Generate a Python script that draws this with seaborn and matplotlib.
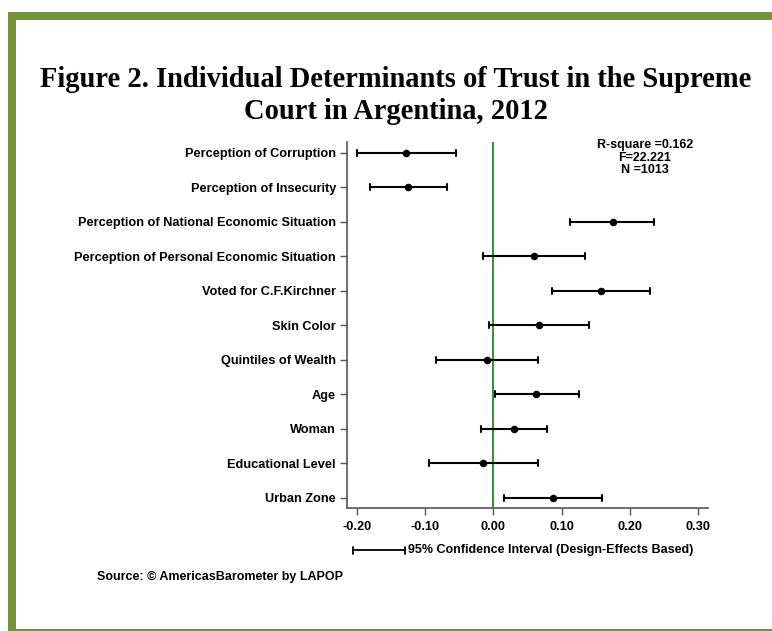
import matplotlib
matplotlib.use("Agg")
import matplotlib.pyplot as plt
from matplotlib.patches import Rectangle
from matplotlib.lines import Line2D
import numpy as np
import pandas as pd
import seaborn as sns

# Regression coefficients with 95% confidence bounds
variables = [
    "Perception of Corruption",
    "Perception of Insecurity",
    "Perception of National Economic Situation",
    "Perception of Personal Economic Situation",
    "Voted for C.F.Kirchner",
    "Skin Color",
    "Quintiles of Wealth",
    "Age",
    "Woman",
    "Educational Level",
    "Urban Zone",
]
coef = [-0.128, -0.125, 0.175, 0.060, 0.158, 0.067, -0.009, 0.063, 0.030, -0.015, 0.088]
ci_low = [-0.201, -0.181, 0.113, -0.015, 0.086, -0.006, -0.084, 0.002, -0.018, -0.095, 0.016]
ci_high = [-0.055, -0.068, 0.236, 0.135, 0.230, 0.140, 0.066, 0.125, 0.079, 0.065, 0.160]
x_ticks = [-0.20, -0.10, 0.00, 0.10, 0.20, 0.30]
stats_text = "R-square =0.162\nF=22.221\nN =1013"
title_lines = ["Figure 2. Individual Determinants of Trust in the Supreme",
               "Court in Argentina, 2012"]

# Long table: low / estimate / high per variable; median = estimate, full range = CI
rows = []
for v, lo, c, hi in zip(variables, ci_low, coef, ci_high):
    for val in (lo, c, hi):
        rows.append({"variable": v, "value": val})
df = pd.DataFrame(rows)

sns.set_style("white")
plt.rcParams["font.family"] = ["Liberation Sans", "DejaVu Sans"]
plt.rcParams["text.color"] = "black"
plt.rcParams["xtick.color"] = "black"
plt.rcParams["ytick.color"] = "black"

W, H = 772, 631
fig = plt.figure(figsize=(W / 100, H / 100), dpi=100)
fig.patch.set_facecolor("white")

ax = fig.add_axes([347 / W, 1 - 508 / H, (708 - 347) / W, (508 - 142) / H])

sns.pointplot(
    data=df, x="value", y="variable", order=variables,
    estimator="median", errorbar=("pi", 100),
    linestyle="none", color="black", capsize=0.18,
    err_kws={"linewidth": 1.5}, markersize=3.4, marker="o",
    ax=ax,
)

ax.axvline(0, color="#1f8a1f", linewidth=1.3, zorder=0)

ax.set_xlim(-0.215, 0.315)
ax.set_ylim(10.3, -0.31)
ax.set_xticks(x_ticks)
ax.set_xticklabels([f"{t:.2f}" for t in x_ticks])
ax.set_xlabel("")
ax.set_ylabel("")

for side in ("top", "right"):
    ax.spines[side].set_visible(False)
for side in ("left", "bottom"):
    ax.spines[side].set_color("#555555")
    ax.spines[side].set_linewidth(1.2)

ax.tick_params(axis="both", which="both", direction="out", length=5, width=1.0,
               color="#555555", labelsize=9.2, labelcolor="black")
ax.tick_params(axis="y", left=True, pad=3)
ax.tick_params(axis="x", bottom=True, pad=4)
for lab in ax.get_xticklabels() + ax.get_yticklabels():
    lab.set_fontweight("bold")

fig.text(645 / W, 1 - 139 / H, stats_text, ha="center", va="top",
         fontsize=9, fontweight="bold", linespacing=1.08)

# Confidence-interval key under the axis
y_key = 1 - 550 / H
x0, x1 = 352.7 / W, 405 / W
cap = 3.5 / H
fig.add_artist(Line2D([x0, x1], [y_key, y_key], color="black", lw=1.3, transform=fig.transFigure))
for xx in (x0, x1):
    fig.add_artist(Line2D([xx, xx], [y_key - cap, y_key + cap], color="black", lw=1.3,
                          transform=fig.transFigure))
fig.text(408 / W, y_key, "95% Confidence Interval (Design-Effects Based)",
         ha="left", va="center", fontsize=9, fontweight="bold")

fig.text(97 / W, 1 - 577 / H, "Source: \u00a9 AmericasBarometer by LAPOP",
         ha="left", va="center", fontsize=9, fontweight="bold")

# Title, sized so the first line spans the page width inside the frame
serif = ["Liberation Serif", "DejaVu Serif"]
t1 = fig.text(396 / W, 1 - 87 / H, title_lines[0], ha="center", va="baseline",
              fontsize=20, fontweight="bold", family=serif)
renderer = fig.canvas.get_renderer()
w1 = t1.get_window_extent(renderer).width
size = 20 * 712 / w1
t1.set_fontsize(size)
fig.text(396 / W, 1 - 119 / H, title_lines[1], ha="center", va="baseline",
         fontsize=size, fontweight="bold", family=serif)

# Green page frame
green = "#76923c"
fig.add_artist(Rectangle((8 / W, 1 - 20 / H), 1 - 8 / W, 8 / H, transform=fig.transFigure,
                         facecolor=green, edgecolor="none"))
fig.add_artist(Rectangle((8 / W, 0), 8 / W, 1 - 12 / H, transform=fig.transFigure,
                         facecolor=green, edgecolor="none"))
fig.add_artist(Rectangle((8 / W, 0), 1 - 8 / W, 2.5 / H, transform=fig.transFigure,
                         facecolor=green, edgecolor="none"))

fig.savefig("out.png", dpi=100, facecolor="white")
